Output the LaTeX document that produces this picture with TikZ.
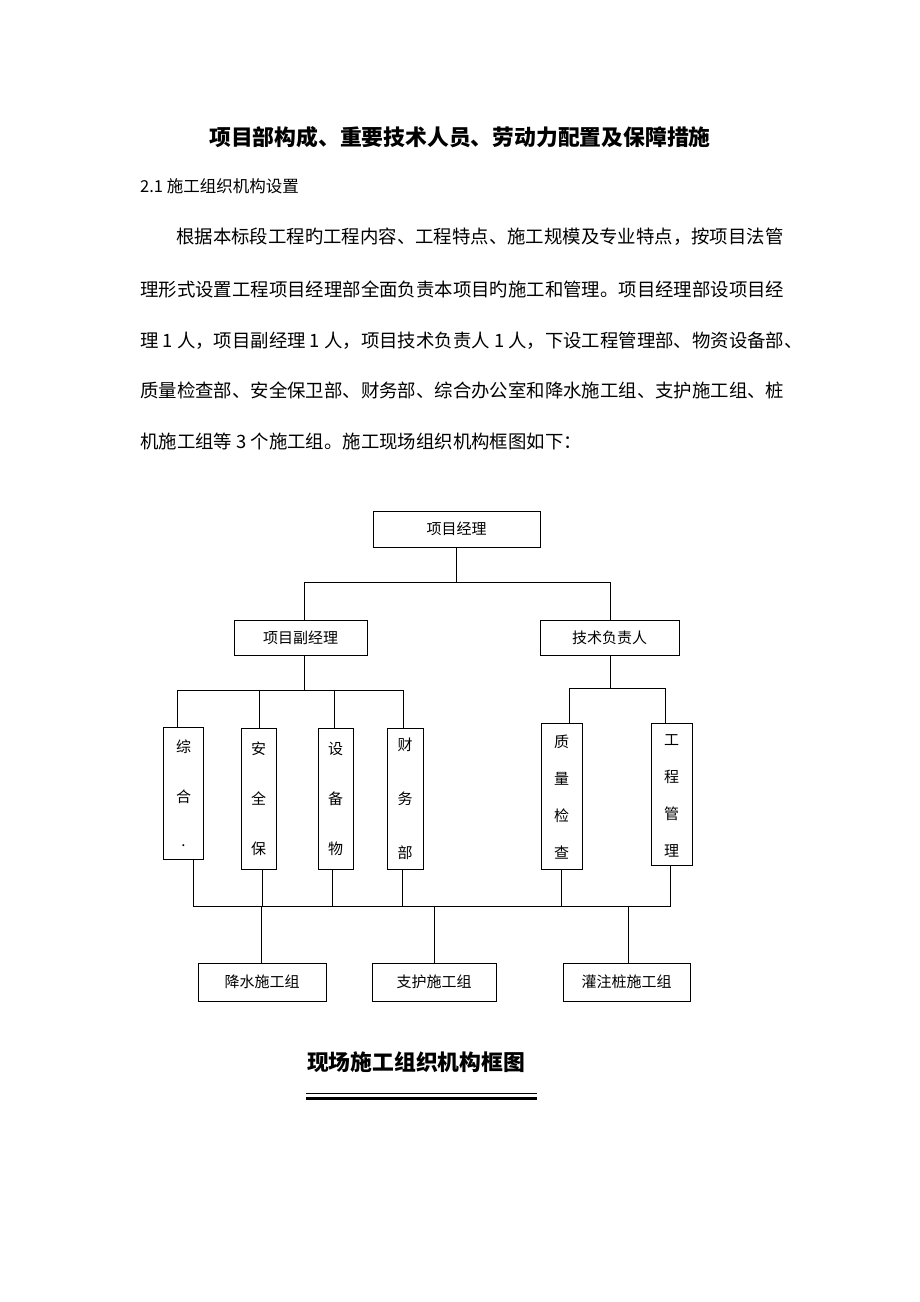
\documentclass[tikz,border=0pt]{standalone}
\usepackage{fontspec}
\setmainfont{Noto Sans CJK SC}
\usetikzlibrary{positioning}

\tikzset{
  box/.style={draw, thick, inner sep=0pt, font=\fontsize{15}{18}\selectfont},
  vbox/.style={box, align=center},
  link/.style={thick},
  body/.style={anchor=base west, inner sep=0pt, font=\fontsize{18.4}{20}\selectfont}
}

\begin{document}
\begin{tikzpicture}[x=1pt, y=-1pt]
  \useasboundingbox (0,0) rectangle (920,1302);

  % heading and text
  \node[font=\fontsize{21.8}{24}\bfseries\selectfont] (title) at (460,137) {项目部构成、重要技术人员、劳动力配置及保障措施};
  \node[body, font=\fontsize{16.5}{18}\selectfont] (sec) at (140,192) {2.1 施工组织机构设置};
  \node[body] (p1) at (176,243) {根据本标段工程旳工程内容、工程特点、施工规模及专业特点，按项目法管};
  \node[body] (p2) at (140,296) {理形式设置工程项目经理部全面负责本项目旳施工和管理。项目经理部设项目经};
  \node[body] (p3) at (140,347) {理 1 人，项目副经理 1 人，项目技术负责人 1 人，下设工程管理部、物资设备部、};
  \node[body] (p4) at (140,397) {质量检查部、安全保卫部、财务部、综合办公室和降水施工组、支护施工组、桩};
  \node[body] (p5) at (140,448) {机施工组等 3 个施工组。施工现场组织机构框图如下：};

  % top levels
  \node[box, minimum width=167pt, minimum height=36pt] (pm) at (456.5,529) {项目经理};
  \node[box, minimum width=133pt, minimum height=35pt] (dpm) at (300.5,637.5) {项目副经理};
  \node[box, minimum width=139pt, minimum height=35pt] (tech) at (609.5,637.5) {技术负责人};

  % departments
  \node[vbox, minimum width=40pt, minimum height=132pt] (zh) at (183.5,793) {\\[-4pt]综\\[32pt]合\\[26pt].};
  \node[vbox, minimum width=35pt, minimum height=141pt] (aq) at (258.5,798.5) {\\[-4pt]安\\[32pt]全\\[32pt]保};
  \node[vbox, minimum width=35pt, minimum height=141pt] (sb) at (335.5,798.5) {\\[-4pt]设\\[32pt]备\\[32pt]物};
  \node[vbox, minimum width=36pt, minimum height=141pt] (cw) at (405,798.5) {\\[-4pt]财\\[36pt]务\\[36pt]部};
  \node[vbox, minimum width=41pt, minimum height=146pt] (zl) at (561.5,796) {\\[-4pt]质\\[19pt]量\\[19pt]检\\[19pt]查};
  \node[vbox, minimum width=41pt, minimum height=142pt] (gc) at (671.5,794) {\\[-4pt]工\\[19pt]程\\[19pt]管\\[19pt]理};

  % teams
  \node[box, minimum width=128pt, minimum height=38pt] (js) at (262,982) {降水施工组};
  \node[box, minimum width=124pt, minimum height=38pt] (zf) at (434,982) {支护施工组};
  \node[box, minimum width=127pt, minimum height=38pt] (gz) at (626.5,982) {灌注桩施工组};

  % connectors
  \coordinate (b1) at (456.5,582);
  \draw[link] (pm.south) -- (b1);
  \draw[link] (dpm.north -| 304,0) -- (304,582) -- (610,582) -- (tech.north -| 610,0);
  \coordinate (b2) at (304,690);
  \draw[link] (dpm.south -| b2) -- (b2);
  \draw[link] (zh.north -| 177,0) -- (177,690) -- (403,690) -- (cw.north -| 403,0);
  \draw[link] (aq.north -| 259,0) -- (259,690);
  \draw[link] (sb.north -| 334,0) -- (334,690);
  \coordinate (b3) at (610,688);
  \draw[link] (tech.south -| b3) -- (b3);
  \draw[link] (zl.north -| 569,0) -- (569,688) -- (665,688) -- (gc.north -| 665,0);

  \draw[link] (zh.south -| 193,0) -- (193,906) -- (670,906) -- (gc.south -| 670,0);
  \draw[link] (aq.south -| 262,0) -- (262,906);
  \draw[link] (sb.south -| 332,0) -- (332,906);
  \draw[link] (cw.south -| 402,0) -- (402,906);
  \draw[link] (zl.south -| 561,0) -- (561,906);
  \draw[link] (js.north -| 261,0) -- (261,906);
  \draw[link] (zf.north) -- (434,906);
  \draw[link] (gz.north -| 628,0) -- (628,906);

  % caption
  \node[font=\fontsize{21.8}{24}\bfseries\selectfont] (cap) at (416,1062) {现场施工组织机构框图};
  \draw[line width=1pt] (306,1093) -- (537,1093);
  \draw[line width=3pt] (306,1098) -- (537,1098);
\end{tikzpicture}
\end{document}
